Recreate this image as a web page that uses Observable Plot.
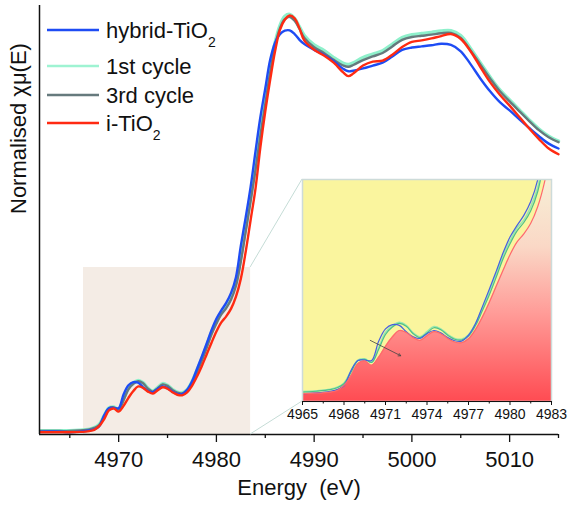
<!DOCTYPE html>
<html>
<head>
<meta charset="utf-8">
<script src="https://cdn.jsdelivr.net/npm/d3@7"></script>
<script src="https://cdn.jsdelivr.net/npm/@observablehq/plot@0.6"></script>
<style>
html,body{margin:0;padding:0;background:#fff;}
#wrap{position:relative;width:569px;height:506px;overflow:hidden;}
#wrap > svg{position:absolute;}
</style>
</head>
<body>
<div id="wrap"></div>
<script>
// ---------- data ----------
const energy = [4962,4964,4965,4966,4967,4967.5,4968,4968.5,4969,4969.5,
  4970,4970.5,4971,4971.5,4972,4972.5,4973,4973.5,4974,4974.5,
  4975,4975.5,4976,4976.5,4977,4977.5,4978,4978.5,4979,4979.5,
  4980,4980.5,4981,4981.5,4982,4982.5,4983,4983.5,4984,4984.5,
  4985,4985.5,4986,4986.5,4987,4987.5,4988,4988.5,4989,4990,
  4991,4992,4993,4993.5,4994,4995,4996,4997,4998,4999,
  5000,5001,5002,5003,5004,5005,5006,5007,5008,5009,
  5010,5011,5012,5013,5014,5015];

const hybridTiO2 = [0.010,0.010,0.008,0.010,0.014,0.018,0.028,0.066,0.092,0.093,
  0.092,0.140,0.172,0.183,0.181,0.165,0.152,0.148,0.160,0.168,
  0.162,0.150,0.142,0.141,0.156,0.185,0.228,0.272,0.318,0.365,
  0.405,0.434,0.460,0.495,0.550,0.660,0.760,0.866,0.990,1.110,
  1.210,1.310,1.370,1.400,1.412,1.413,1.400,1.380,1.365,1.345,
  1.328,1.305,1.278,1.270,1.272,1.280,1.290,1.300,1.322,1.345,
  1.353,1.357,1.361,1.366,1.362,1.340,1.295,1.245,1.200,1.162,
  1.133,1.102,1.072,1.043,1.017,1.000];

const cycle1st = [0.013,0.013,0.013,0.015,0.019,0.024,0.035,0.065,0.093,0.096,
  0.088,0.124,0.163,0.180,0.189,0.181,0.162,0.152,0.165,0.178,
  0.172,0.158,0.148,0.146,0.157,0.185,0.224,0.265,0.311,0.358,
  0.395,0.428,0.448,0.482,0.530,0.620,0.725,0.830,0.940,1.060,
  1.170,1.280,1.370,1.430,1.462,1.469,1.455,1.425,1.395,1.362,
  1.343,1.318,1.298,1.294,1.300,1.318,1.330,1.342,1.365,1.388,
  1.398,1.402,1.406,1.411,1.412,1.395,1.350,1.300,1.250,1.205,
  1.170,1.135,1.100,1.068,1.043,1.026];

const cycle3rd = [0.012,0.012,0.012,0.014,0.018,0.023,0.033,0.062,0.091,0.095,
  0.087,0.120,0.158,0.177,0.186,0.179,0.160,0.150,0.162,0.175,
  0.170,0.156,0.146,0.144,0.154,0.180,0.218,0.258,0.303,0.350,
  0.388,0.420,0.442,0.472,0.520,0.605,0.710,0.815,0.925,1.045,
  1.155,1.265,1.360,1.420,1.452,1.460,1.447,1.418,1.386,1.354,
  1.334,1.310,1.290,1.286,1.292,1.309,1.322,1.334,1.357,1.380,
  1.390,1.394,1.398,1.403,1.404,1.387,1.343,1.294,1.245,1.200,
  1.165,1.130,1.096,1.064,1.039,1.022];

const iTiO2 = [0.008,0.008,0.008,0.009,0.012,0.016,0.029,0.053,0.084,0.091,
  0.080,0.100,0.128,0.152,0.168,0.163,0.150,0.143,0.155,0.165,
  0.160,0.148,0.139,0.137,0.147,0.170,0.202,0.239,0.280,0.321,
  0.360,0.392,0.413,0.440,0.482,0.545,0.640,0.750,0.860,1.005,
  1.130,1.240,1.340,1.415,1.450,1.465,1.455,1.420,1.377,1.345,
  1.325,1.300,1.265,1.253,1.262,1.290,1.304,1.307,1.328,1.355,
  1.373,1.378,1.385,1.393,1.400,1.383,1.340,1.285,1.232,1.188,
  1.150,1.110,1.070,1.033,1.000,0.980];

const seriesNames = ["hybrid-TiO2", "1st cycle", "3rd cycle", "i-TiO2"];
const mainTicks = [4970, 4980, 4990, 5000, 5010];
const mainMinorTicks = [4965, 4975, 4985, 4995, 5005, 5015];
const insetTicks = [4965, 4968, 4971, 4974, 4977, 4980, 4983];
const insetMinorTicks = [4966.5, 4969.5, 4972.5, 4975.5, 4978.5, 4981.5];
const zoomWindow = [{x1: 4966.4, x2: 4983.5, y1: 0, y2: 0.584}];
const insetArrow = [{x1: 4969.9, y1: 0.143, x2: 4972.1, y2: 0.104}];
const xLabel = "Energy\u00a0 (eV)";
const yLabel = "Normalised \u03c7\u03bc(E)";

// ---------- layout / style ----------
const FONT = '"Liberation Sans", Arial, Helvetica, sans-serif';
const xDomain = [4961.9, 5015];
const yDomain = [0, 1.5];
const insetXDomain = [4965, 4983];
const insetYDomain = [-0.012, 0.551];

const rows = [];
[hybridTiO2, cycle1st, cycle3rd, iTiO2].forEach((vals, k) => {
  energy.forEach((e, i) => rows.push({series: seriesNames[k], energy: e, value: vals[i]}));
});
const bySeries = name => rows.filter(d => d.series === name);

const mainStyle = {
  "hybrid-TiO2": {color: "#1e4cf4", width: 2.4},
  "1st cycle": {color: "#8ef0cb", width: 3.4},
  "3rd cycle": {color: "#667a7d", width: 2.4},
  "i-TiO2": {color: "#ff2a12", width: 2.4}
};
const insetStyle = {
  "hybrid-TiO2": {color: "#4660e0", width: 1.2},
  "1st cycle": {color: "#98e8b0", width: 1.6},
  "3rd cycle": {color: "#4fbf86", width: 1.2},
  "i-TiO2": {color: "#ff6a6a", width: 1.2}
};
const drawOrder = ["1st cycle", "3rd cycle", "hybrid-TiO2", "i-TiO2"];

const wrap = document.getElementById("wrap");

// ---------- main chart ----------
const main = Plot.plot({
  width: 569, height: 506,
  marginLeft: 39, marginRight: 11, marginTop: 5, marginBottom: 72,
  x: {domain: xDomain, label: null},
  y: {domain: yDomain, axis: null},
  style: {fontFamily: FONT, fontSize: "22px", color: "#111", background: "#fff", overflow: "visible"},
  marks: [
    Plot.rect(zoomWindow, {x1: "x1", x2: "x2", y1: "y1", y2: "y2", fill: "#f4ece5"}),
    ...drawOrder.map(n => Plot.line(bySeries(n), {
      x: "energy", y: "value", stroke: mainStyle[n].color,
      strokeWidth: mainStyle[n].width, curve: "catmull-rom"
    })),
    Plot.ruleY([yDomain[0]], {stroke: "#111", strokeWidth: 1.5}),
    Plot.ruleX([xDomain[0]], {stroke: "#111", strokeWidth: 1.5}),
    Plot.axisX({ticks: mainMinorTicks, tickSize: 4, tickFormat: () => "", label: null, strokeWidth: 1.3}),
    Plot.axisX({ticks: mainTicks, tickSize: 8, tickPadding: 9, tickFormat: d => String(d), label: null, strokeWidth: 1.3}),
    Plot.text([xLabel], {text: d => d, frameAnchor: "bottom", dy: 60, fontSize: 22}),
    Plot.text([yLabel], {text: d => d, frameAnchor: "left", rotate: -90, dx: -21, dy: -6, fontSize: 22})
  ]
});
main.style.left = "0px"; main.style.top = "0px";
wrap.appendChild(main);

// ---------- inset ----------
const insetLeft = 282, insetTop = 175;
const inMarginL = 20, inMarginR = 18, inMarginT = 4, inMarginB = 26;
const inW = 287, inH = 252;
const inset = Plot.plot({
  width: inW, height: inH,
  marginLeft: inMarginL, marginRight: inMarginR, marginTop: inMarginT, marginBottom: inMarginB,
  x: {domain: insetXDomain, label: null},
  y: {domain: insetYDomain, axis: null},
  style: {fontFamily: FONT, fontSize: "14px", color: "#111", background: "transparent", overflow: "visible"},
  marks: [
    Plot.frame({fill: "url(#insetGrad)"}),
    Plot.areaY(bySeries("i-TiO2"), {x: "energy", y1: "value", y2: 2, fill: "#faf59e", curve: "catmull-rom", clip: true}),
    ...drawOrder.map(n => Plot.line(bySeries(n), {
      x: "energy", y: "value", stroke: insetStyle[n].color,
      strokeWidth: insetStyle[n].width, curve: "catmull-rom", clip: true
    })),
    Plot.arrow(insetArrow, {x1: "x1", y1: "y1", x2: "x2", y2: "y2", stroke: "#444", strokeWidth: 0.8, headLength: 5}),
    Plot.frame({stroke: "#cddbd9", strokeWidth: 1.5}),
    Plot.ruleY([insetYDomain[0]], {stroke: "#111", strokeWidth: 1.2}),
    Plot.axisX({ticks: insetMinorTicks, tickSize: 2.5, tickFormat: () => "", label: null}),
    Plot.axisX({ticks: insetTicks, tickSize: 4, tickPadding: 4, tickFormat: d => String(d), label: null})
  ]
});
const defs = d3.select(inset).insert("defs", ":first-child");
const grad = defs.append("linearGradient").attr("id", "insetGrad")
  .attr("x1", 0).attr("y1", 0).attr("x2", 0).attr("y2", 1);
[[0, "#f7efd6"], [0.3, "#fad8c6"], [0.6, "#ff9c98"], [1, "#ff4b52"]].forEach(([o, c]) =>
  grad.append("stop").attr("offset", o).attr("stop-color", c));

// ---------- overlay: connectors + legend ----------
const sx = main.scale("x"), sy = main.scale("y");
const ov = d3.create("svg").attr("width", 569).attr("height", 506)
  .style("left", "0px").style("top", "0px")
  .style("font-family", FONT);
const cornerX = sx.apply(zoomWindow[0].x2);
const pL = insetLeft + inMarginL, pT = insetTop + inMarginT, pB = insetTop + inH - inMarginB;
[[sy.apply(zoomWindow[0].y2), pT], [sy.apply(zoomWindow[0].y1), pB]].forEach(([y0, y1]) => {
  ov.append("line").attr("x1", cornerX).attr("y1", y0).attr("x2", pL).attr("y2", y1)
    .attr("stroke", "#c5dcd6").attr("stroke-width", 1);
});

const legendRows = [30, 66, 95, 123];
const legendColors = {"hybrid-TiO2": "#1e4cf4", "1st cycle": "#9ef3d2", "3rd cycle": "#667a7d", "i-TiO2": "#ff2a12"};
seriesNames.forEach((name, i) => {
  const y = legendRows[i];
  ov.append("line").attr("x1", 47).attr("x2", 99).attr("y1", y).attr("y2", y)
    .attr("stroke", legendColors[name]).attr("stroke-width", 2.6);
  const t = ov.append("text").attr("x", 106).attr("y", y + 7.5)
    .attr("font-size", 22).attr("fill", "#111");
  if (name.endsWith("TiO2")) {
    t.append("tspan").text(name.slice(0, -1));
    t.append("tspan").attr("dy", 9).attr("font-size", 14).text("2");
  } else {
    t.text(name);
  }
});
wrap.appendChild(ov.node());

inset.style.left = insetLeft + "px"; inset.style.top = insetTop + "px";
wrap.appendChild(inset);
</script>
</body>
</html>
